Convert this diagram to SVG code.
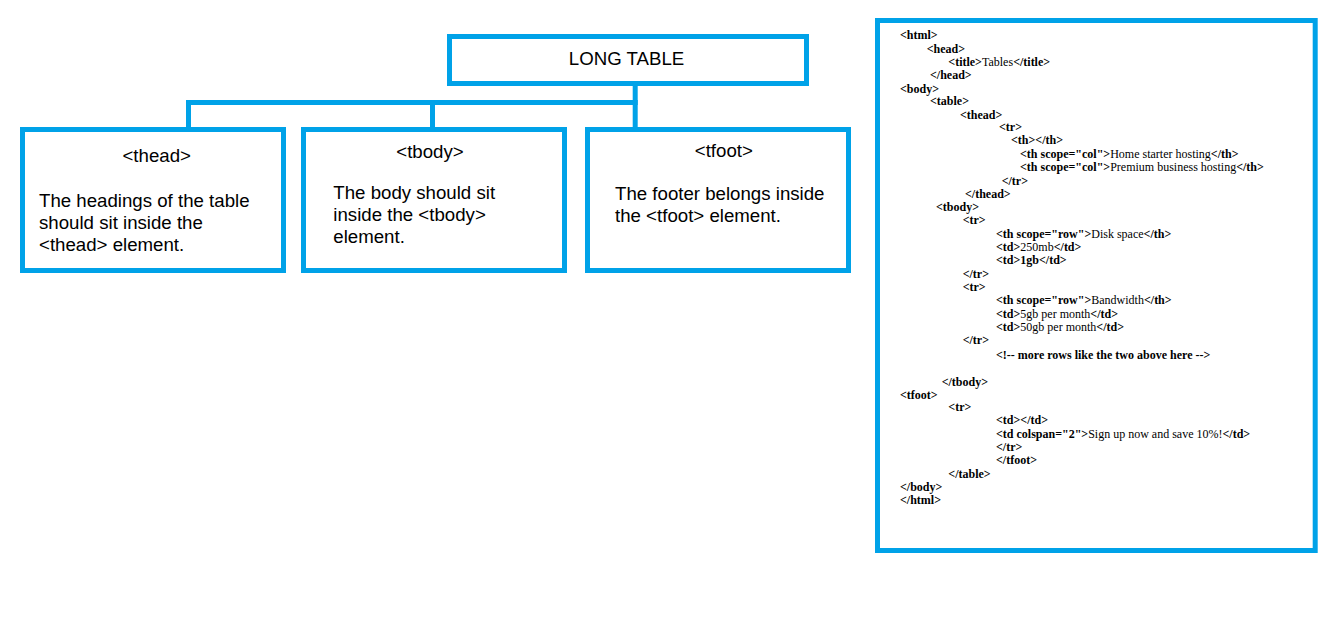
<svg xmlns="http://www.w3.org/2000/svg" width="1335" height="623" viewBox="0 0 1335 623">
<style>
.box{fill:#fff;stroke:#00A2E8;stroke-width:5}
.conn{fill:none;stroke:#00A2E8;stroke-width:5}
.t{font-family:"Liberation Sans",Arial,sans-serif;font-size:18.67px;fill:#000}
.c{font-family:"Liberation Serif","Times New Roman",serif;font-size:12px;font-weight:bold;fill:#000}
.n{font-weight:normal}
</style>
<rect width="1335" height="623" fill="#fff"/>
<g id="connectors">
<path class="conn" d="M186,102.5 H637.7"/>
<path class="conn" d="M188.5,100 V128"/>
<path class="conn" d="M432.5,100 V128"/>
<path class="conn" d="M635.2,85 V128"/>
</g>
<g id="long-table">
<rect class="box" x="449.5" y="36.5" width="357" height="47"/>
<text class="t" x="626.5" y="65" text-anchor="middle">LONG TABLE</text>
</g>
<g id="thead">
<rect class="box" x="22.5" y="129.5" width="261" height="141"/>
<text class="t" x="156.7" y="162" text-anchor="middle">&lt;thead&gt;</text>
<text class="t" x="39" y="207">The headings of the table</text>
<text class="t" x="39" y="229">should sit inside the</text>
<text class="t" x="39" y="251">&lt;thead&gt; element.</text>
</g>
<g id="tbody">
<rect class="box" x="303.5" y="129.5" width="261" height="141"/>
<text class="t" x="430" y="157.5" text-anchor="middle">&lt;tbody&gt;</text>
<text class="t" x="333.3" y="198.5">The body should sit</text>
<text class="t" x="333.3" y="220.5">inside the &lt;tbody&gt;</text>
<text class="t" x="333.3" y="242.5">element.</text>
</g>
<g id="tfoot">
<rect class="box" x="587.5" y="129.5" width="261" height="141"/>
<text class="t" x="723.8" y="156.5" text-anchor="middle">&lt;tfoot&gt;</text>
<text class="t" x="615" y="199.5">The footer belongs inside</text>
<text class="t" x="615" y="221.5">the &lt;tfoot&gt; element.</text>
</g>
<g id="code">
<rect class="box" x="877.5" y="20.5" width="437.7" height="530"/>
<g transform="translate(0,1.2)">
<text class="c" x="900" y="38.3">&lt;html&gt;</text>
<text class="c" x="926.7" y="51.7">&lt;head&gt;</text>
<text class="c" x="948.3" y="65">&lt;title&gt;<tspan class="n">Tables</tspan>&lt;/title&gt;</text>
<text class="c" x="930" y="78.3">&lt;/head&gt;</text>
<text class="c" x="900" y="91.7">&lt;body&gt;</text>
<text class="c" x="930" y="104.3">&lt;table&gt;</text>
<text class="c" x="960" y="117.7">&lt;thead&gt;</text>
<text class="c" x="999" y="130">&lt;tr&gt;</text>
<text class="c" x="1011" y="143.3">&lt;th&gt;&lt;/th&gt;</text>
<text class="c" x="1020" y="156.7">&lt;th scope="col"&gt;<tspan class="n">Home starter hosting</tspan>&lt;/th&gt;</text>
<text class="c" x="1020" y="170">&lt;th scope="col"&gt;<tspan class="n">Premium business hosting</tspan>&lt;/th&gt;</text>
<text class="c" x="1001.7" y="184">&lt;/tr&gt;</text>
<text class="c" x="965" y="197.3">&lt;/thead&gt;</text>
<text class="c" x="936" y="210">&lt;tbody&gt;</text>
<text class="c" x="962.7" y="223.3">&lt;tr&gt;</text>
<text class="c" x="996" y="236.7">&lt;th scope="row"&gt;<tspan class="n">Disk space</tspan>&lt;/th&gt;</text>
<text class="c" x="996" y="250">&lt;td&gt;<tspan class="n">250mb</tspan>&lt;/td&gt;</text>
<text class="c" x="996" y="263.3">&lt;td&gt;1gb&lt;/td&gt;</text>
<text class="c" x="962.7" y="276.7">&lt;/tr&gt;</text>
<text class="c" x="962.7" y="290">&lt;tr&gt;</text>
<text class="c" x="996" y="303.3">&lt;th scope="row"&gt;<tspan class="n">Bandwidth</tspan>&lt;/th&gt;</text>
<text class="c" x="996" y="316.7">&lt;td&gt;<tspan class="n">5gb per month</tspan>&lt;/td&gt;</text>
<text class="c" x="996" y="330">&lt;td&gt;<tspan class="n">50gb per month</tspan>&lt;/td&gt;</text>
<text class="c" x="962.7" y="343.3">&lt;/tr&gt;</text>
<text class="c" x="996" y="358">&lt;!-- more rows like the two above here --&gt;</text>
<text class="c" x="941.7" y="385">&lt;/tbody&gt;</text>
<text class="c" x="900" y="398.3">&lt;tfoot&gt;</text>
<text class="c" x="948.3" y="410">&lt;tr&gt;</text>
<text class="c" x="996" y="423.3">&lt;td&gt;&lt;/td&gt;</text>
<text class="c" x="996" y="436.7">&lt;td colspan="2"&gt;<tspan class="n">Sign up now and save 10%!</tspan>&lt;/td&gt;</text>
<text class="c" x="996" y="450">&lt;/tr&gt;</text>
<text class="c" x="996" y="463.3">&lt;/tfoot&gt;</text>
<text class="c" x="948.3" y="476.7">&lt;/table&gt;</text>
<text class="c" x="900" y="490">&lt;/body&gt;</text>
<text class="c" x="900" y="503.3">&lt;/html&gt;</text>
</g>
</g>
</svg>
